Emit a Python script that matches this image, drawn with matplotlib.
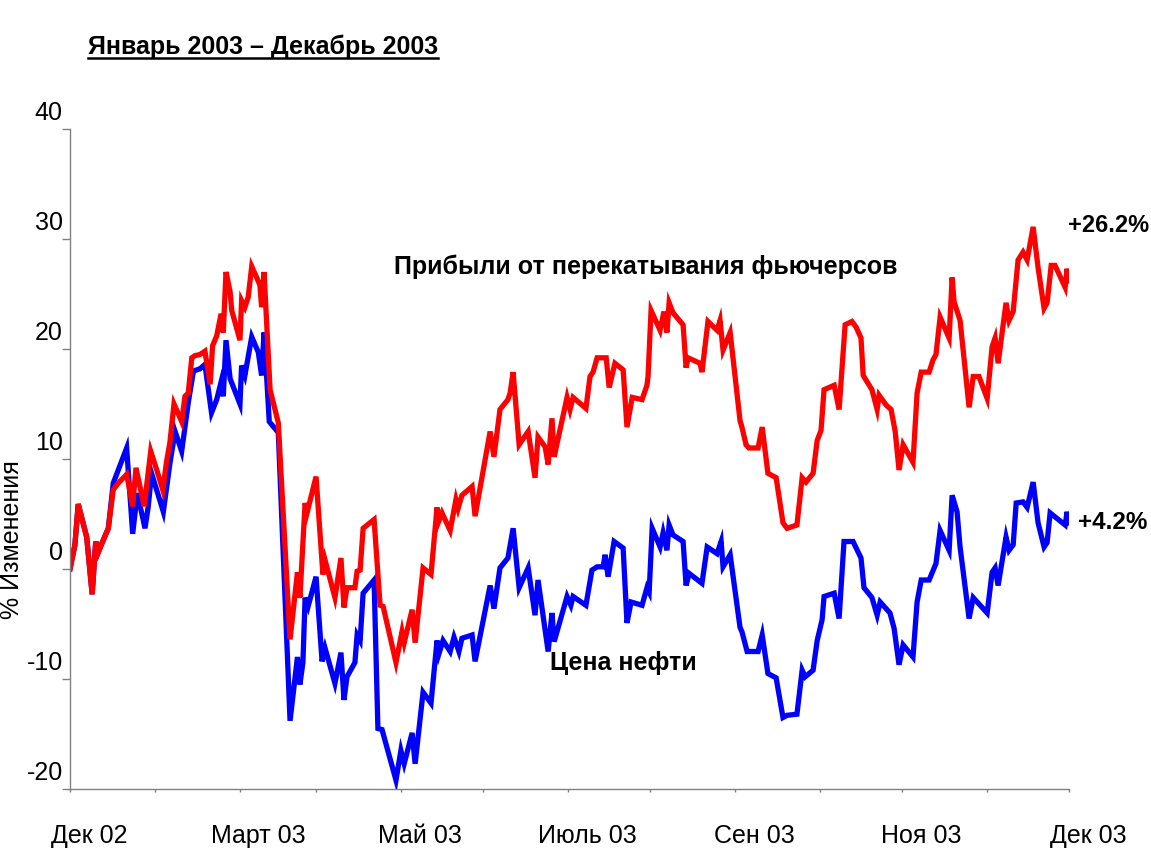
import numpy as np
import pandas as pd
import matplotlib
matplotlib.use("Agg")
import matplotlib.pyplot as plt
from matplotlib.transforms import ScaledTranslation
from matplotlib.lines import Line2D

plt.rcParams['font.family'] = ['Liberation Sans', 'DejaVu Sans']

# days since 2002-12-01 and % change
roll_days = [0.0, 1.8, 3.0, 6.1, 8.1, 9.4, 10.3, 11.6, 14.0, 15.8, 17.6, 20.7, 22.9, 24.1, 27.1,
             29.5, 31.7, 33.9, 35.3, 36.5, 38.0, 40.8, 42.0, 43.2, 44.5, 45.7, 47.5, 49.3, 51.2,
             52.1, 53.6, 55.2, 56.0, 57.0, 58.5, 59.1, 62.1, 62.7, 63.9, 65.1, 66.4, 68.2, 69.4,
             70.0, 70.9, 73.1, 76.1, 80.4, 83.1, 84.0, 85.9, 86.6, 89.9, 92.4, 93.2, 96.8, 99.0,
             100.1, 101.2, 104.1, 104.9, 106.0, 107.1, 111.1, 113.3, 114.4, 119.1, 121.3, 122.1,
             125.0, 126.1, 129.0, 131.9, 134.1, 134.5, 135.9, 138.9, 141.0, 141.8, 143.2, 146.9,
             148.0, 153.5, 154.9, 157.1, 160.0, 160.8, 161.9, 164.1, 167.4, 169.9, 171.0, 173.6,
             174.7, 176.1, 176.9, 181.6, 182.7, 183.8, 188.5, 190.0, 191.1, 192.6, 195.9, 197.0,
             199.1, 202.1, 203.5, 205.4, 209.0, 210.8, 211.2, 212.3, 215.6, 217.0, 218.1, 218.9,
             220.3, 224.0, 225.1, 225.8, 230.2, 230.9, 233.1, 236.4, 237.5, 238.6, 241.2, 244.8,
             245.5, 247.0, 248.1, 251.4, 252.9, 255.0, 258.0, 260.5, 262.0, 265.6, 267.5, 268.9,
             271.5, 273.0, 274.4, 275.5, 279.2, 281.0, 283.2, 285.7, 287.2, 289.0, 289.8, 293.0,
             294.9, 295.6, 298.2, 300.0, 301.5, 302.9, 304.4, 308.0, 309.5, 311.0, 313.9, 315.3,
             316.4, 317.9, 321.2, 322.3, 323.0, 325.2, 328.5, 330.0, 332.1, 335.1, 336.9, 338.0,
             339.1, 342.0, 343.1, 344.6, 346.4, 348.2, 349.7, 351.9, 353.7, 355.9, 357.0, 358.5,
             359.9, 363.6, 364.3, 365.0]
roll_vals = [0.0, 2.2, 5.9, 2.9, -2.3, 2.5, 1.5, 2.3, 3.7, 7.2, 7.8, 8.6, 5.7, 9.2, 5.7,
             10.7, 9.0, 7.2, 9.8, 11.5, 15.0, 13.4, 15.7, 16.0, 19.2, 19.4, 19.5, 19.8, 16.8,
             20.3, 21.2, 23.2, 21.5, 27.0, 25.2, 23.5, 20.8, 24.4, 23.8, 24.7, 27.5, 26.5, 25.8,
             23.8, 27.0, 16.3, 13.3, -6.4, -0.3, -2.6, 6.0, 5.1, 8.4, -0.5, 0.8, -2.6, 1.0,
             -3.5, -1.7, -1.7, -0.2, -0.1, 3.7, 4.5, -3.3, -3.4, -8.5, -5.7, -6.7,
             -3.7, -6.7, 0.1, -0.5, 5.6, 4.2, 5.1, 3.5, 6.3, 5.5, 6.7, 7.5,
             4.8, 12.5, 10.2, 14.5, 15.4, 16.0, 17.9, 11.3, 12.5, 8.3, 12.0, 11.1,
             9.5, 13.7, 10.2, 15.6, 14.5, 15.6, 14.6, 17.5, 17.9, 19.2, 19.2, 16.5,
             18.7, 18.1, 12.9, 15.6, 15.4, 16.7, 17.5, 23.5, 21.7, 23.4, 21.5, 24.2,
             23.3, 22.2, 18.3, 19.2, 18.7, 17.9, 22.5, 21.7, 22.6, 19.9, 21.5, 13.5,
             12.9, 11.3, 11.0, 11.0, 12.9, 8.7, 8.3, 4.2, 3.7, 4.0, 8.3, 7.9,
             8.7, 11.7, 12.6, 16.3, 16.7, 14.5, 22.2, 22.5, 22.0, 21.0, 17.6, 16.3,
             14.5, 15.8, 14.9, 14.5, 12.5, 9.0, 11.3, 9.7, 16.0, 17.9, 17.9, 19.0,
             19.5, 22.9, 21.0, 26.5, 24.3, 22.6, 14.7, 17.5, 17.5, 15.5, 20.2, 21.0,
             18.7, 24.2, 22.6, 23.4, 28.1, 28.8, 28.1, 31.1, 27.4, 23.7, 24.2, 27.6,
             27.6, 25.6, 27.3, 26.2]

oil_days = [0.0, 1.8, 3.0, 6.1, 8.1, 9.4, 10.3, 11.6, 14.0, 15.8, 20.7, 22.9, 24.6, 27.4, 28.6,
            29.8, 34.1, 36.5, 38.4, 40.8, 43.2, 45.1, 47.5, 49.3, 51.7, 53.6, 55.2, 56.0, 57.0,
            58.5, 62.1, 62.7, 63.9, 66.4, 68.8, 70.0, 70.9, 72.8, 76.1, 80.4, 83.1, 84.0, 85.1,
            85.9, 87.0, 89.9, 92.1, 93.2, 96.8, 99.0, 100.1, 101.2, 104.1, 104.9, 106.0, 107.1,
            111.1, 112.5, 114.0, 119.1, 120.9, 122.1, 125.0, 126.1, 129.0, 131.9, 134.1, 134.8,
            136.3, 138.9, 140.3, 142.1, 143.2, 146.9, 148.0, 153.5, 154.9, 157.1, 160.0, 161.9,
            164.1, 167.4, 169.9, 171.0, 174.7, 176.1, 176.9, 181.6, 183.0, 183.8, 188.5, 190.7,
            192.6, 194.8, 195.5, 196.6, 198.8, 202.1, 203.5, 205.0, 209.0, 210.8, 211.6, 212.7,
            215.6, 216.7, 218.1, 218.9, 220.3, 224.0, 225.1, 226.2, 230.9, 232.8, 236.4, 237.9,
            238.6, 241.2, 244.8, 245.5, 247.4, 251.4, 252.9, 255.0, 258.0, 260.5, 262.0, 265.6,
            267.5, 268.6, 271.5, 273.0, 274.8, 275.5, 279.2, 281.0, 282.8, 286.1, 289.0, 290.1,
            293.0, 294.9, 296.0, 299.6, 301.1, 302.9, 304.4, 308.0, 309.5, 311.0, 313.9, 316.4,
            317.9, 321.2, 322.3, 324.1, 325.2, 328.5, 330.0, 335.1, 336.9, 338.0, 339.1, 342.0,
            343.1, 344.6, 345.7, 348.2, 349.7, 351.9, 353.7, 355.9, 357.0, 358.1, 363.6, 364.3,
            365.0]
oil_vals = [0.0, 2.2, 5.9, 2.9, -2.3, 2.5, 1.5, 2.3, 3.7, 7.8, 11.0, 3.2, 6.9, 3.7, 5.7,
            8.7, 5.2, 9.6, 12.5, 10.7, 15.1, 18.0, 18.2, 18.6, 14.2, 15.4, 17.0, 15.7, 20.8,
            17.3, 15.0, 18.5, 17.6, 21.1, 19.7, 17.6, 21.5, 13.4, 12.4, -13.8, -8.0, -10.5, -8.5,
            -2.6, -3.4, -0.7, -8.4, -7.2, -10.4, -7.6, -11.9, -9.8, -8.5, -6.0, -6.5, -2.2,
            -1.0, -14.5, -14.6, -19.2, -16.5, -17.7, -14.9, -17.7, -11.2, -12.2, -6.5, -7.7,
            -6.5, -7.5, -6.2, -7.5, -6.3, -6.0, -8.4, -1.5, -3.6, 0.1, 1.0, 3.7,
            -1.7, 0.1, -4.2, -1.0, -7.5, -4.0, -6.6, -2.5, -3.3, -2.5, -3.3, -0.1,
            0.2, 0.2, 1.3, -0.7, 2.5, 1.9, -4.9, -3.0, -3.3, -1.7, -2.1, 3.7,
            2.0, 3.3, 1.7, 4.0, 3.1, 2.5, -1.5, -0.4, -1.3, 2.0, 1.4, 2.5,
            0.2, 1.3, -5.3, -5.7, -7.5, -7.5, -6.0, -9.5, -9.9, -13.5, -13.3, -13.2,
            -9.2, -9.8, -9.2, -6.5, -4.6, -2.5, -2.2, -4.5, 2.5, 2.5, 1.0, -1.7,
            -2.6, -4.2, -3.0, -4.0, -5.4, -8.7, -6.9, -8.0, -3.0, -1.0, -1.0, 0.5,
            3.5, 1.7, 6.7, 5.2, 2.0, -4.5, -2.6, -4.0, -0.3, 0.1, -1.5, 2.9,
            1.7, 2.2, 6.0, 6.1, 5.6, 7.9, 4.2, 2.0, 2.4, 5.1, 4.0, 5.2,
            4.2]

month_labels = ['Дек 02', 'Март 03', 'Май 03', 'Июль 03', 'Сен 03', 'Ноя 03', 'Дек 03']
y_ticks = [-20, -10, 0, 10, 20, 30, 40]

start = pd.Timestamp('2002-12-01')
roll_dates = start + pd.to_timedelta(roll_days, unit='D')
oil_dates = start + pd.to_timedelta(oil_days, unit='D')

fig = plt.figure(figsize=(11.51, 8.49), dpi=100)
ax = fig.add_axes([70 / 1151, 60 / 849, 999 / 1151, 660 / 849])

ax.plot(oil_dates, oil_vals, color='#0000FF', lw=3.8, solid_joinstyle='miter')
ax.plot(roll_dates, roll_vals, color='#FF0000', lw=3.8, solid_joinstyle='miter')

ax.set_xlim(start, pd.Timestamp('2003-12-01'))
ax.set_ylim(-20, 40)

for s in ['top', 'right']:
    ax.spines[s].set_visible(False)
for s in ['left', 'bottom']:
    ax.spines[s].set_color('#808080')
    ax.spines[s].set_linewidth(1.0)

# y axis
ax.set_yticks(y_ticks)
ax.set_yticklabels([str(v) for v in y_ticks])
ax.tick_params(axis='y', length=6, width=1, color='#808080', pad=0, labelsize=18)
off_y = ScaledTranslation(1 / 100, 18 / 100, fig.dpi_scale_trans)
for lab in ax.get_yticklabels():
    lab.set_transform(lab.get_transform() + off_y)

# x axis
major = pd.date_range(start, periods=7, freq='2MS')
minor = pd.date_range(start, periods=13, freq='MS')
ax.set_xticks(major)
ax.set_xticklabels(month_labels)
ax.set_xticks(minor, minor=True)
ax.tick_params(axis='x', which='both', length=2, width=1, color='#808080', pad=23, labelsize=18)
off_x = ScaledTranslation(19 / 100, 0, fig.dpi_scale_trans)
for lab in ax.get_xticklabels():
    lab.set_transform(lab.get_transform() + off_x)

fig.text(12 / 1151, 1 - 540 / 849, '% Изменения', rotation=90, ha='center', va='center', fontsize=18)

# annotations
ax.text(start + pd.Timedelta(days=210.5), 27.45, 'Прибыли от перекатывания фьючерсов',
        ha='center', va='center', fontsize=18, fontweight='bold')
ax.text(start + pd.Timedelta(days=175.4), -8.55, 'Цена нефти',
        ha='left', va='center', fontsize=18, fontweight='bold')
ax.text(start + pd.Timedelta(days=364.7), 31.2, '+26.2%',
        ha='left', va='center', fontsize=17, fontweight='bold', clip_on=False)
ax.text(start + pd.Timedelta(days=368.3), 4.2, '+4.2%',
        ha='left', va='center', fontsize=17.5, fontweight='bold', clip_on=False)

title = fig.text(88 / 1151, 1 - 47 / 849, 'Январь 2003 – Декабрь 2003',
                 ha='left', va='center', fontsize=18, fontweight='bold')

fig.canvas.draw()
bb = title.get_window_extent()
uy = bb.y0 + 1
fig.add_artist(Line2D([bb.x0 / fig.bbox.width, bb.x1 / fig.bbox.width],
                      [uy / fig.bbox.height, uy / fig.bbox.height],
                      transform=fig.transFigure, color='black', lw=1.8))

fig.savefig('out.png', dpi=100)
